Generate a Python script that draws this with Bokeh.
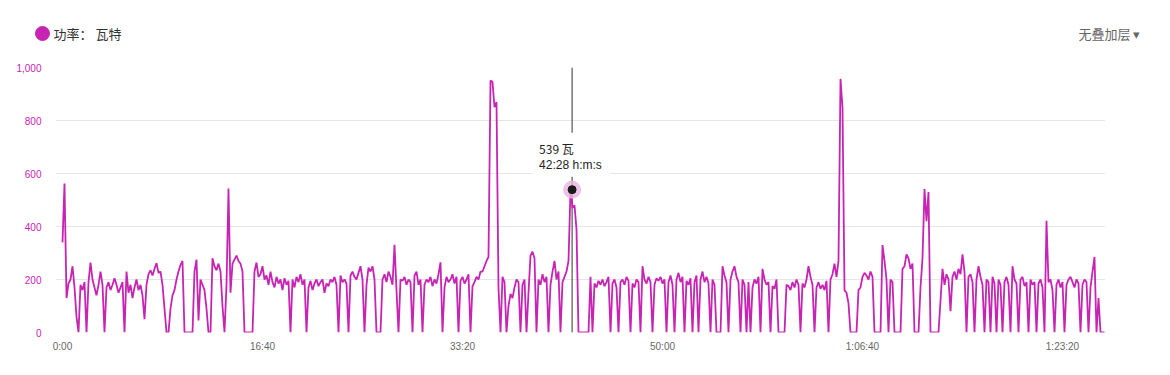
from bokeh.plotting import figure
from bokeh.models import (FixedTicker, NumeralTickFormatter, Span, BoxAnnotation,
                          Label, Range1d)
from bokeh.layouts import column
from bokeh.core.properties import value
from bokeh.embed import file_html
from bokeh.resources import INLINE

MAG = "#c724b4"

# power in watts, one sample every 10 s
step_s = 10
power_w = [
    340, 562, 130, 185, 200, 250, 170, 60, 0, 180,
    160, 190, 0, 190, 264, 200, 170, 140, 180, 230,
    180, 0, 170, 190, 160, 180, 205, 180, 150, 170,
    190, 0, 230, 150, 180, 130, 170, 200, 160, 180,
    140, 50, 180, 220, 235, 215, 240, 262, 225, 230,
    180, 90, 0, 0, 90, 140, 160, 200, 230, 255,
    270, 0, 0, 0, 0, 0, 230, 275, 45, 200,
    180, 160, 90, 0, 0, 280, 250, 235, 260, 230,
    100, 0, 180, 543, 150, 260, 275, 290, 270, 260,
    230, 0, 0, 0, 0, 0, 230, 264, 210, 220,
    250, 200, 215, 180, 230, 190, 170, 210, 185, 200,
    160, 205, 180, 195, 0, 200, 170, 210, 190, 220,
    180, 200, 0, 170, 195, 160, 185, 200, 175, 190,
    200, 150, 185, 175, 200, 190, 210, 180, 0, 215,
    190, 200, 185, 0, 215, 230, 210, 200, 225, 250,
    200, 0, 180, 245, 230, 250, 200, 0, 0, 0,
    200, 220, 190, 230, 210, 180, 331, 160, 0, 200,
    195, 210, 180, 200, 190, 0, 215, 230, 180, 200,
    0, 180, 200, 190, 210, 175, 200, 185, 220, 265,
    0, 170, 210, 190, 200, 220, 185, 210, 0, 195,
    210, 185, 200, 220, 0, 175, 190, 210, 200, 230,
    230, 250, 270, 285, 951, 945, 850, 870, 170, 0,
    210, 190, 0, 100, 146, 130, 170, 200, 190, 0,
    180, 200, 0, 150, 290, 305, 280, 0, 200, 180,
    220, 190, 210, 0, 180, 230, 270, 200, 230, 0,
    190, 210, 230, 270, 539, 470, 480, 390, 0, 0,
    0, 0, 0, 0, 210, 0, 185, 170, 195, 180,
    200, 175, 190, 210, 0, 185, 200, 170, 0, 190,
    200, 180, 210, 195, 0, 185, 170, 200, 190, 0,
    250, 200, 185, 210, 190, 0, 180, 205, 195, 210,
    185, 200, 0, 190, 215, 180, 0, 200, 225, 190,
    210, 0, 195, 180, 205, 0, 190, 215, 0, 200,
    230, 190, 210, 185, 0, 200, 180, 0, 0, 0,
    250, 215, 190, 0, 200, 230, 250, 210, 190, 0,
    200, 180, 0, 190, 0, 170, 200, 185, 210, 0,
    240, 200, 180, 190, 0, 175, 165, 200, 0, 0,
    0, 0, 180, 175, 160, 190, 170, 200, 180, 0,
    185, 170, 200, 250, 210, 180, 0, 170, 190, 165,
    180, 160, 195, 0, 200, 220, 260, 210, 270, 957,
    850, 160, 150, 110, 0, 0, 0, 0, 160, 170,
    210, 225, 215, 200, 230, 210, 0, 0, 0, 0,
    330, 270, 200, 0, 200, 190, 0, 0, 0, 0,
    240, 250, 295, 280, 240, 260, 0, 0, 0, 170,
    280, 541, 420, 530, 0, 0, 0, 0, 0, 120,
    240, 180, 220, 200, 80, 210, 230, 200, 240, 220,
    295, 230, 0, 210, 220, 190, 0, 200, 250, 210,
    180, 0, 200, 190, 0, 210, 185, 0, 200, 180,
    0, 190, 210, 180, 0, 250, 200, 185, 0, 200,
    210, 175, 190, 0, 200, 180, 190, 0, 185, 200,
    170, 0, 422, 190, 200, 160, 0, 180, 200, 170,
    190, 0, 180, 200, 210, 190, 170, 200, 185, 0,
    180, 200, 190, 0, 170, 230, 285, 0, 130, 0,
    0, 0,
]
time_s = [i * step_s for i in range(len(power_w))]

x_ticks = [0, 1000, 2000, 3000, 4000, 5000]
x_labels = ["0:00", "16:40", "33:20", "50:00", "1:06:40", "1:23:20"]
y_ticks = [0, 200, 400, 600, 800, 1000]

tip_t = [2548]
tip_w = [539]

legend_label = ["功率： 瓦特"]
overlay_label = ["无叠加层 ▾"]

W, H = 1170, 375
HEAD = 55                      # header strip height (legend row)
FT = 67                        # frame top in page px
X0, X1 = -35, 5215
Y0, Y1 = 0, 1000
FL, FR, FB = 55, 1105, 332     # frame edges in page px

# ---------- header strip with legend and overlay selector ----------
head = figure(width=W, height=HEAD, output_backend="svg", toolbar_location=None,
              x_range=Range1d(0, W), y_range=Range1d(HEAD, 0),
              x_axis_type=None, y_axis_type=None,
              min_border=0, min_border_left=0, min_border_right=0,
              min_border_top=0, min_border_bottom=0)
head.frame_align = False
head.grid.visible = False
head.outline_line_color = None
head.border_fill_color = "white"
head.scatter([42], [33], size=14, color=MAG)
head.text([53], [33], text=legend_label, text_font=value("Noto Sans CJK SC"),
          text_font_size="13px", text_color="#333333", text_baseline="middle")
head.text([1078], [33], text=overlay_label, text_font=value("Noto Sans CJK SC"),
          text_font_size="13px", text_color="#666666", text_baseline="middle")

# ---------- main chart ----------
p = figure(width=W, height=H - HEAD, output_backend="svg", toolbar_location=None,
           x_range=Range1d(X0, X1), y_range=Range1d(Y0, Y1),
           min_border_left=FL, min_border_right=W - FR, min_border_top=FT - HEAD,
           min_border_bottom=H - FB)
p.frame_align = False
p.outline_line_color = None
p.background_fill_color = "white"
p.border_fill_color = "white"

p.xaxis.ticker = FixedTicker(ticks=x_ticks)
p.xaxis.major_label_overrides = {t: l for t, l in zip(x_ticks, x_labels)}
p.yaxis.ticker = FixedTicker(ticks=y_ticks)
p.yaxis.formatter = NumeralTickFormatter(format="0,0")
for ax in (p.xaxis, p.yaxis):
    ax.axis_line_color = None
    ax.major_tick_line_color = None
    ax.minor_tick_line_color = None
    ax.major_tick_out = 0
    ax.major_tick_in = 0
    ax.major_label_text_font = "Liberation Sans"
    ax.major_label_text_font_size = "10px"
p.xaxis.major_label_text_color = "#666666"
p.yaxis.major_label_text_color = MAG
p.yaxis.major_label_standoff = 14
p.xaxis.major_label_standoff = 8

p.xgrid.visible = False
p.ygrid.ticker = FixedTicker(ticks=y_ticks)
p.ygrid.grid_line_color = "#e6e6e6"
p.ygrid.grid_line_width = 1

s_per_px = (X1 - X0) / float(FR - FL)
w_per_px = (Y1 - Y0) / float(FB - FT)

# crosshair
p.add_layout(Span(location=tip_t[0], dimension="height", line_color="#333333",
                  line_width=1, level="underlay"))

p.line(time_s, power_w, line_color=MAG, line_width=1.8)

# tooltip box
p.add_layout(BoxAnnotation(left=tip_t[0] - 40 * s_per_px, right=tip_t[0] + 38 * s_per_px,
                           bottom=tip_w[0] + 13 * w_per_px, top=tip_w[0] + 57 * w_per_px,
                           fill_color="white", fill_alpha=1.0, line_color=None,
                           level="annotation"))
mm, ss = divmod(tip_t[0], 60)
p.add_layout(Label(x=tip_t[0], y=tip_w[0], x_offset=-33, y_offset=41,
                   text=f"{tip_w[0]} 瓦", text_font="Noto Sans CJK SC",
                   text_font_size="12px", text_color="#222222", text_baseline="middle"))
p.add_layout(Label(x=tip_t[0], y=tip_w[0], x_offset=-33, y_offset=25,
                   text=f"{mm}:{ss:02d} h:m:s", text_font="Liberation Sans",
                   text_font_size="12px", text_color="#222222", text_baseline="middle"))

p.scatter(tip_t, tip_w, size=17, color="#eab4e2", alpha=0.8)
p.scatter(tip_t, tip_w, size=8, color="#1a1a1a")

layout = column(head, p, spacing=0)
open("out.html", "w").write(file_html(layout, INLINE))
